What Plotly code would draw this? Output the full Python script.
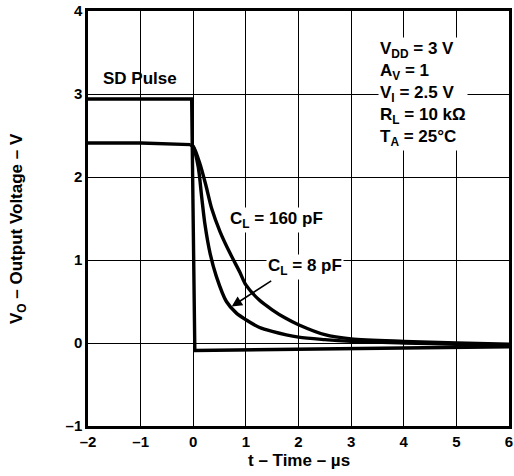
import plotly.graph_objects as go

# --- data ---
pulse_t = [-2, -0.03, 0.03, 3, 6]
pulse_v = [2.94, 2.94, -0.09, -0.07, -0.045]

pre_t = [-2, -1, -0.05]
pre_v = [2.41, 2.41, 2.39]

cl8_t = [-0.05, 0.0, 0.095, 0.16, 0.22, 0.32, 0.44, 0.63, 0.82, 1.0, 1.25, 1.5, 2.0, 2.5, 3.0, 4, 5, 6]
cl8_v = [2.39, 2.36, 2.12, 1.76, 1.44, 1.08, 0.80, 0.50, 0.36, 0.28, 0.19, 0.14, 0.07, 0.04, 0.02, 0.0, -0.015, -0.025]

cl160_t = [-0.05, 0.0, 0.127, 0.24, 0.35, 0.51, 0.70, 0.88, 1.0, 1.25, 1.5, 1.75, 2.0, 2.5, 3.0, 4, 5, 6]
cl160_v = [2.39, 2.37, 2.16, 1.90, 1.62, 1.34, 1.08, 0.86, 0.70, 0.52, 0.40, 0.30, 0.22, 0.10, 0.05, 0.02, 0.0, -0.015]

x_ticks = [-2, -1, 0, 1, 2, 3, 4, 5, 6]
y_ticks = [-1, 0, 1, 2, 3, 4]

FONT = "Liberation Sans, Arial, Helvetica, sans-serif"
LW = 3.4

fig = go.Figure()
fig.add_trace(go.Scatter(x=pulse_t, y=pulse_v, mode="lines",
                         line=dict(color="black", width=LW), showlegend=False))
fig.add_trace(go.Scatter(x=pre_t, y=pre_v, mode="lines",
                         line=dict(color="black", width=LW), showlegend=False))
fig.add_trace(go.Scatter(x=cl8_t, y=cl8_v, mode="lines",
                         line=dict(color="black", width=LW, shape="spline", smoothing=0.8),
                         showlegend=False))
fig.add_trace(go.Scatter(x=cl160_t, y=cl160_v, mode="lines",
                         line=dict(color="black", width=LW, shape="spline", smoothing=0.8),
                         showlegend=False))

axis_common = dict(
    showgrid=True, gridcolor="black", gridwidth=1.2,
    showline=True, linecolor="black", linewidth=2.5, mirror=True,
    zeroline=False, ticks="", automargin=False,
    tickfont=dict(family=FONT, size=15, color="black", weight="bold"),
)

def lab(v):
    return ("–" + str(-v)) if v < 0 else str(v)

fig.update_xaxes(range=[-2, 6], tickvals=x_ticks, ticktext=[lab(v) for v in x_ticks], **axis_common)
fig.update_yaxes(range=[-1, 4], tickvals=y_ticks, ticktext=[lab(v) for v in y_ticks], **axis_common)

fnt = dict(family=FONT, size=17, color="black", weight="bold")

annotations = [
    dict(x=-1.02, y=3.19, xref="x", yref="y", text="SD Pulse", showarrow=False, font=fnt),
    dict(x=1.59, y=1.48, xref="x", yref="y", text="C<sub>L</sub> = 160 pF", showarrow=False,
         font=fnt, bgcolor="white"),
    dict(x=2.12, y=0.92, xref="x", yref="y", text="C<sub>L</sub> = 8 pF", showarrow=False,
         font=fnt, bgcolor="white"),
    dict(x=0.73, y=0.44, xref="x", yref="y", ax=1.51, ay=0.76, axref="x", ayref="y",
         text="", showarrow=True, arrowhead=2, arrowsize=1.3, arrowwidth=1.6, arrowcolor="black"),
    dict(x=3.52, y=3.0, xref="x", yref="y", xanchor="left", yanchor="middle", align="left",
         text="V<sub>DD</sub> = 3 V<br>A<sub>V</sub> = 1<br>V<sub>I</sub> = 2.5 V<br>R<sub>L</sub> = 10 kΩ<br>T<sub>A</sub> = 25°C",
         showarrow=False, font=fnt, bgcolor="white"),
    dict(x=0.501, y=-0.082, xref="paper", yref="paper", text="t – Time – µs", showarrow=False,
         font=fnt, xanchor="center", yanchor="middle"),
    dict(x=-0.166, y=0.475, xref="paper", yref="paper", text="V<sub>O</sub> – Output Voltage – V",
         showarrow=False, font=fnt, textangle=-90, xanchor="center", yanchor="middle"),
]

fig.update_layout(
    width=514, height=476,
    margin=dict(l=88, r=5, t=11, b=50),
    plot_bgcolor="white", paper_bgcolor="white",
    annotations=annotations,
    font=dict(family=FONT, color="black"),
)

fig.write_html("out.html", config={"displayModeBar": False},
               post_script="document.body.style.margin='0';")
